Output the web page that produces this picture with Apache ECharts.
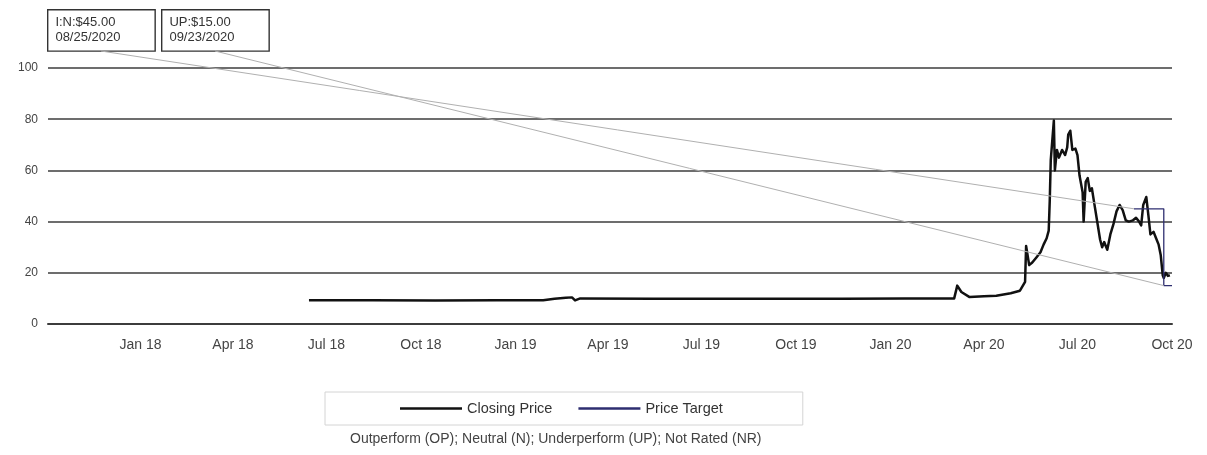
<!DOCTYPE html>
<html>
<head>
<meta charset="utf-8">
<script src="https://cdn.jsdelivr.net/npm/echarts@6/dist/echarts.min.js"></script>
<style>
html,body{margin:0;padding:0;background:#fff}
#c{width:1207px;height:455px}
</style>
</head>
<body>
<div id="c"></div>
<script>
// ---- data ----
const priceDates = [
  '2018-06-14','2018-08-15','2018-10-15','2018-12-14','2019-01-28','2019-02-08','2019-02-19','2019-02-25',
  '2019-02-28','2019-03-05','2019-05-15','2019-08-15','2019-11-15','2020-01-15','2020-03-03','2020-03-06',
  '2020-03-10','2020-03-18','2020-04-01','2020-04-13','2020-04-27','2020-05-06','2020-05-11','2020-05-12',
  '2020-05-15','2020-05-18','2020-05-22','2020-05-26','2020-05-29','2020-06-01','2020-06-03','2020-06-04',
  '2020-06-05','2020-06-08','2020-06-09','2020-06-11','2020-06-13','2020-06-16','2020-06-19','2020-06-21',
  '2020-06-22','2020-06-24','2020-06-26','2020-06-29','2020-07-01','2020-07-03','2020-07-06','2020-07-07',
  '2020-07-09','2020-07-11','2020-07-13','2020-07-15','2020-07-17','2020-07-20','2020-07-23','2020-07-25',
  '2020-07-27','2020-07-30','2020-08-02','2020-08-05','2020-08-08','2020-08-11','2020-08-14','2020-08-17',
  '2020-08-20','2020-08-24','2020-08-27','2020-08-30','2020-09-01','2020-09-03','2020-09-06','2020-09-08',
  '2020-09-10','2020-09-13','2020-09-16','2020-09-18','2020-09-20','2020-09-22','2020-09-23','2020-09-25',
  '2020-09-27','2020-09-29'
];
const priceValues = [
  9.3,9.3,9.2,9.3,9.3,9.9,10.3,10.4,
  9.2,10.0,9.9,9.9,9.9,10.0,10.0,15.0,
  12.5,10.5,10.8,11.0,12.0,13.0,16.5,30.5,
  23.0,24.0,26.0,28.0,31.0,33.5,36.5,48.0,
  64.0,79.5,60.0,68.0,65.0,68.0,66.0,69.0,
  74.0,75.5,68.0,68.5,66.0,58.0,51.5,40.0,
  55.5,57.0,52.0,53.0,48.0,40.5,33.0,30.0,
  32.0,29.0,35.0,39.0,44.0,46.5,44.5,40.5,
  40.0,40.5,41.5,40.0,38.5,46.5,49.6,42.5,
  35.0,36.0,33.0,31.0,27.0,19.0,18.0,20.0,
  18.8,19.0
];
const targetDates = ['2020-08-25','2020-09-23','2020-10-01'];
const targetValues = [45, 15, 15];
const ratingDates = ['2020-08-25','2020-09-23'];
const ratingValues = [45, 15];
const ratingLabels = ['I:N:$45.00\n08/25/2020', 'UP:$15.00\n09/23/2020'];
const tickDates = ['2018-01-01','2018-04-01','2018-07-01','2018-10-01','2019-01-01','2019-04-01',
  '2019-07-01','2019-10-01','2020-01-01','2020-04-01','2020-07-01','2020-10-01'];
const tickLabels = ['Jan 18','Apr 18','Jul 18','Oct 18','Jan 19','Apr 19',
  'Jul 19','Oct 19','Jan 20','Apr 20','Jul 20','Oct 20'];
const xMin = '2017-10-03', xMax = '2020-10-01';
const yMin = 0, yMax = 100, yStep = 20;
const seriesNames = ['Closing Price', 'Price Target'];
const footnote = 'Outperform (OP); Neutral (N); Underperform (UP); Not Rated (NR)';

// ---- helpers ----
function ts(s){ const p = s.split('-').map(Number); return Date.UTC(p[0], p[1]-1, p[2]); }
const tickTimes = tickDates.map(ts);
const FONT = '"Liberation Sans", Arial, sans-serif';

// annotation box layout (pixels)
const boxLeft = [47, 161];
const boxAnchor = [[101, 51], [215, 51]];

const chart = echarts.init(document.getElementById('c'), null, {renderer: 'canvas'});
chart.setOption({
  animation: false,
  backgroundColor: '#ffffff',
  textStyle: {fontFamily: FONT},
  grid: {left: 48, right: 35, top: 68, bottom: 131, containLabel: false},
  xAxis: {
    type: 'value',
    min: ts(xMin), max: ts(xMax),
    axisLine: {show: true, onZero: false, lineStyle: {color: '#3c3c3c', width: 2}},
    axisTick: {show: false},
    splitLine: {show: false},
    axisLabel: {
      customValues: tickTimes,
      showMinLabel: true, showMaxLabel: true,
      hideOverlap: false,
      margin: 14,
      color: '#444', fontSize: 14, fontFamily: FONT,
      formatter: function (v) {
        let best = -1, bd = Infinity;
        tickTimes.forEach(function (t, i) { const d = Math.abs(t - v); if (d < bd) { bd = d; best = i; } });
        return bd < 3 * 86400000 ? tickLabels[best] : '';
      }
    }
  },
  yAxis: {
    type: 'value', min: yMin, max: yMax, interval: yStep,
    axisLine: {show: false}, axisTick: {show: false},
    splitLine: {show: true, lineStyle: {color: '#3c3c3c', width: 1.6}},
    axisLabel: {margin: 10, color: '#444', fontSize: 12, fontFamily: FONT}
  },
  legend: {
    data: seriesNames,
    left: 325, top: 392,
    orient: 'horizontal',
    icon: 'rect', itemWidth: 62, itemHeight: 2.5, itemGap: 26,
    padding: [9, 80, 9, 75],
    borderColor: '#d4d4d4', borderWidth: 1,
    textStyle: {color: '#333', fontSize: 14.5, fontFamily: FONT}
  },
  graphic: [
    {
      type: 'text', left: boxLeft[0], top: 9, silent: true,
      style: {text: ratingLabels[0], font: '13px ' + FONT, fill: '#333', lineHeight: 15,
        padding: [5, 34, 5, 7], borderColor: '#333', borderWidth: 1.4, backgroundColor: '#fff'}
    },
    {
      type: 'text', left: boxLeft[1], top: 9, silent: true,
      style: {text: ratingLabels[1], font: '13px ' + FONT, fill: '#333', lineHeight: 15,
        padding: [5, 34, 5, 7], borderColor: '#333', borderWidth: 1.4, backgroundColor: '#fff'}
    },
    {
      type: 'text', left: 350, top: 432, silent: true,
      style: {text: footnote, font: '14px ' + FONT, fill: '#444'}
    }
  ],
  series: [
    {
      name: seriesNames[0], type: 'line',
      data: priceDates.map(function (d, i) { return [ts(d), priceValues[i]]; }),
      showSymbol: false, symbol: 'none',
      lineStyle: {color: '#111', width: 2.5, join: 'round'},
      itemStyle: {color: '#111'},
      z: 3
    },
    {
      name: seriesNames[1], type: 'line', step: 'end',
      data: targetDates.map(function (d, i) { return [ts(d), targetValues[i]]; }),
      showSymbol: false, symbol: 'none',
      lineStyle: {color: '#2e2e70', width: 1.3},
      itemStyle: {color: '#2e2e70'},
      z: 4,
      markLine: {
        silent: true, symbol: ['none', 'none'], animation: false,
        label: {show: false},
        lineStyle: {color: '#b0b0b0', width: 1, type: 'solid'},
        emphasis: {disabled: true},
        data: ratingDates.map(function (d, i) {
          return [{x: boxAnchor[i][0], y: boxAnchor[i][1]}, {coord: [ts(d), ratingValues[i]]}];
        })
      }
    }
  ]
});
</script>
</body>
</html>
